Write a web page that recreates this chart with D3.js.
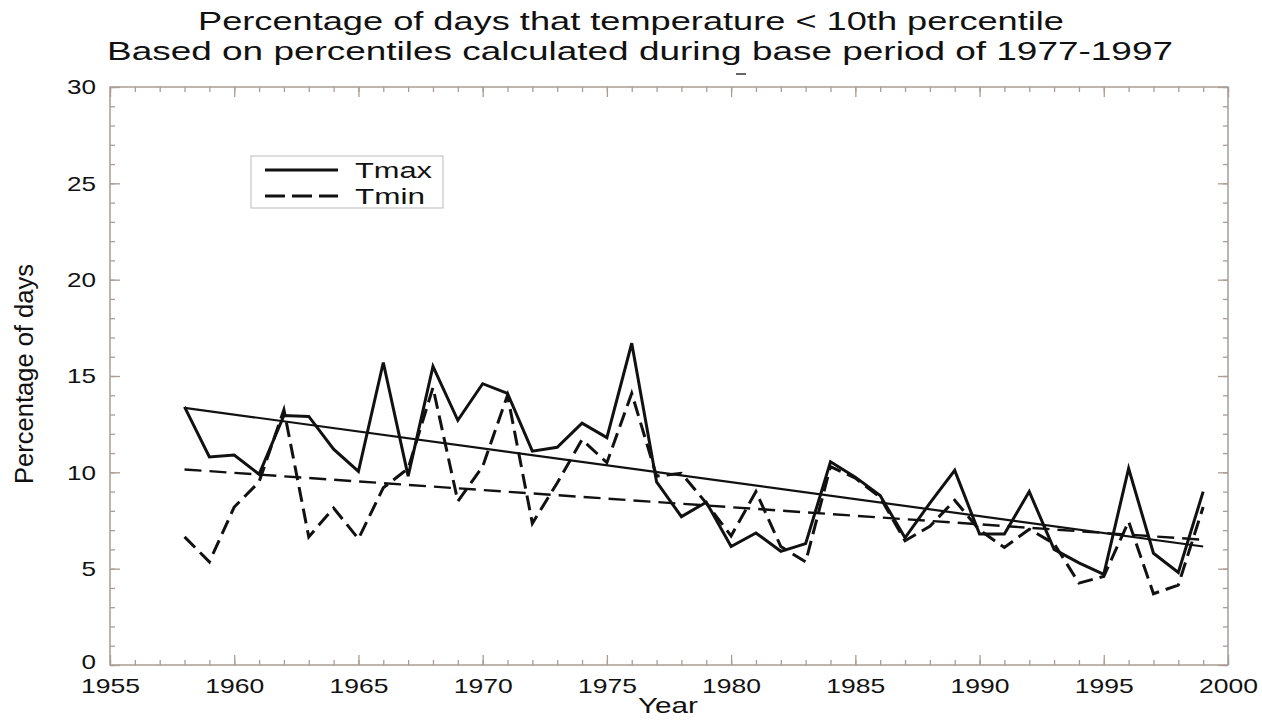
<!DOCTYPE html>
<html>
<head>
<meta charset="utf-8">
<script src="https://cdn.jsdelivr.net/npm/d3@7"></script>
<style>
  html, body { margin: 0; padding: 0; background: #fff; }
  svg { display: block; }
  text { font-family: "Liberation Sans", Arial, Helvetica, sans-serif; fill: #111; }
</style>
</head>
<body>
<svg id="chart" width="1262" height="720"></svg>
<script>
// ---- Data ----
const years = [1958,1959,1960,1961,1962,1963,1964,1965,1966,1967,1968,1969,1970,1971,1972,1973,1974,1975,1976,1977,
               1978,1979,1980,1981,1982,1983,1984,1985,1986,1987,1988,1989,1990,1991,1992,1993,1994,1995,1996,1997,1998,1999];
const tmax = [13.4,10.8,10.9,9.9,12.95,12.9,11.2,10.05,15.7,9.8,15.5,12.7,14.6,14.1,11.1,11.3,12.55,11.8,16.7,9.5,
              7.7,8.45,6.15,6.85,5.9,6.3,10.55,9.75,8.8,6.6,8.4,10.1,6.8,6.8,9.0,6.0,5.3,4.7,10.2,5.8,4.8,9.0];
const tmin = [6.65,5.35,8.2,9.5,13.25,6.65,8.15,6.55,9.2,10.2,14.4,8.5,10.3,14.0,7.35,9.45,11.7,10.5,14.1,9.8,
              9.95,8.4,6.7,9.0,6.15,5.35,10.3,9.7,8.7,6.45,7.2,8.55,7.0,6.1,7.05,6.3,4.25,4.6,7.45,3.7,4.15,8.2];
const trendYears = [1958, 1999];
const tmaxTrend = [13.35, 6.15];
const tminTrend = [10.15, 6.5];
const xMajorTicks = [1955,1960,1965,1970,1975,1980,1985,1990,1995,2000];
const yMajorTicks = [0,5,10,15,20,25,30];
const titleLines = ["Percentage of days that temperature < 10th percentile",
                    "Based on percentiles calculated during base period of 1977-1997"];
const seriesNames = ["Tmax", "Tmin"];

// ---- Layout ----
const svg = d3.select("#chart");
const L = 110, R = 1228, T = 87, B = 665;
const frameColor = "#a99d95";

const x = d3.scaleLinear().domain([1955, 2000]).range([L, R]);
const y = d3.scaleLinear().domain([0, 30]).range([B, T]);

const xMinor = d3.range(1955, 2001, 1);
const yMinor = d3.range(0, 31, 1);

function styleAxis(g) {
  g.select(".domain").remove();
  g.selectAll(".tick line").attr("stroke", frameColor).attr("stroke-width", 1.3);
}

// minor ticks
svg.append("g").attr("transform", `translate(0,${B})`)
  .call(d3.axisBottom(x).tickValues(xMinor).tickSize(-5).tickFormat("")).call(styleAxis);
svg.append("g").attr("transform", `translate(0,${T})`)
  .call(d3.axisTop(x).tickValues(xMinor).tickSize(-5).tickFormat("")).call(styleAxis);
svg.append("g").attr("transform", `translate(${L},0)`)
  .call(d3.axisLeft(y).tickValues(yMinor).tickSize(-5).tickFormat("")).call(styleAxis);
svg.append("g").attr("transform", `translate(${R},0)`)
  .call(d3.axisRight(y).tickValues(yMinor).tickSize(-5).tickFormat("")).call(styleAxis);

// major ticks with labels
const xAxis = svg.append("g").attr("transform", `translate(0,${B})`)
  .call(d3.axisBottom(x).tickValues(xMajorTicks).tickSize(-10).tickPadding(13).tickFormat(d3.format("d")))
  .call(styleAxis);
xAxis.selectAll("text").attr("font-size", 21).attr("fill", "#111")
  .attr("textLength", 59).attr("lengthAdjust", "spacingAndGlyphs").attr("dy", "0.72em");

svg.append("g").attr("transform", `translate(0,${T})`)
  .call(d3.axisTop(x).tickValues(xMajorTicks).tickSize(-10).tickFormat("")).call(styleAxis);

const yAxis = svg.append("g").attr("transform", `translate(${L},0)`)
  .call(d3.axisLeft(y).tickValues(yMajorTicks).tickSize(-10).tickPadding(14).tickFormat(d3.format("d")))
  .call(styleAxis);
yAxis.selectAll("text").attr("font-size", 21).attr("fill", "#111")
  .each(function(d) {
    const s = String(d);
    const t = d3.select(this).attr("textLength", s.length * 14.5).attr("lengthAdjust", "spacingAndGlyphs");
    if (d === 0) t.attr("y", -3);
  });

svg.append("g").attr("transform", `translate(${R},0)`)
  .call(d3.axisRight(y).tickValues(yMajorTicks).tickSize(-10).tickFormat("")).call(styleAxis);

// frame
svg.append("rect").attr("x", L).attr("y", T).attr("width", R - L).attr("height", B - T)
  .attr("fill", "none").attr("stroke", frameColor).attr("stroke-width", 1.5);

// ---- Lines ----
const line = d3.line().x(d => x(d[0])).y(d => y(d[1]));
const tmaxPts = years.map((yr, i) => [yr, tmax[i]]);
const tminPts = years.map((yr, i) => [yr, tmin[i]]);
const tmaxTrendPts = trendYears.map((yr, i) => [yr, tmaxTrend[i]]);
const tminTrendPts = trendYears.map((yr, i) => [yr, tminTrend[i]]);

svg.append("path").datum(tminTrendPts).attr("d", line)
  .attr("fill", "none").attr("stroke", "#111").attr("stroke-width", 2.4).attr("stroke-dasharray", "17,8");
svg.append("path").datum(tmaxTrendPts).attr("d", line)
  .attr("fill", "none").attr("stroke", "#111").attr("stroke-width", 2.2);
svg.append("path").datum(tminPts).attr("d", line)
  .attr("fill", "none").attr("stroke", "#111").attr("stroke-width", 3).attr("stroke-dasharray", "15,7")
  .attr("stroke-linejoin", "miter");
svg.append("path").datum(tmaxPts).attr("d", line)
  .attr("fill", "none").attr("stroke", "#111").attr("stroke-width", 3).attr("stroke-linejoin", "miter");

// ---- Legend ----
const lg = svg.append("g");
lg.append("rect").attr("x", 251).attr("y", 156).attr("width", 192).attr("height", 52)
  .attr("fill", "#fff").attr("stroke", "#bbb").attr("stroke-width", 1);
lg.append("line").attr("x1", 265).attr("x2", 338).attr("y1", 170).attr("y2", 170)
  .attr("stroke", "#111").attr("stroke-width", 3);
lg.append("line").attr("x1", 265).attr("x2", 338).attr("y1", 196).attr("y2", 196)
  .attr("stroke", "#111").attr("stroke-width", 3).attr("stroke-dasharray", "20,7");
lg.append("text").attr("x", 355).attr("y", 178).attr("font-size", 22)
  .attr("textLength", 77).attr("lengthAdjust", "spacingAndGlyphs").text(seriesNames[0]);
lg.append("text").attr("x", 355).attr("y", 204).attr("font-size", 22)
  .attr("textLength", 70).attr("lengthAdjust", "spacingAndGlyphs").text(seriesNames[1]);

// ---- Titles ----
svg.append("text").attr("x", 631).attr("y", 30).attr("text-anchor", "middle")
  .attr("font-size", 25).attr("textLength", 866).attr("lengthAdjust", "spacingAndGlyphs").text(titleLines[0]);
svg.append("text").attr("x", 640).attr("y", 60).attr("text-anchor", "middle")
  .attr("font-size", 25).attr("textLength", 1066).attr("lengthAdjust", "spacingAndGlyphs").text(titleLines[1]);
svg.append("line").attr("x1", 736).attr("x2", 746).attr("y1", 74).attr("y2", 74)
  .attr("stroke", "#333").attr("stroke-width", 1.5);

// axis titles
svg.append("text").attr("x", 668).attr("y", 713).attr("text-anchor", "middle")
  .attr("font-size", 22).attr("textLength", 60).attr("lengthAdjust", "spacingAndGlyphs").text("Year");
svg.append("text").attr("transform", "translate(33,374) rotate(-90)").attr("text-anchor", "middle")
  .attr("font-size", 26).attr("textLength", 220).attr("lengthAdjust", "spacingAndGlyphs").text("Percentage of days");
</script>
</body>
</html>
